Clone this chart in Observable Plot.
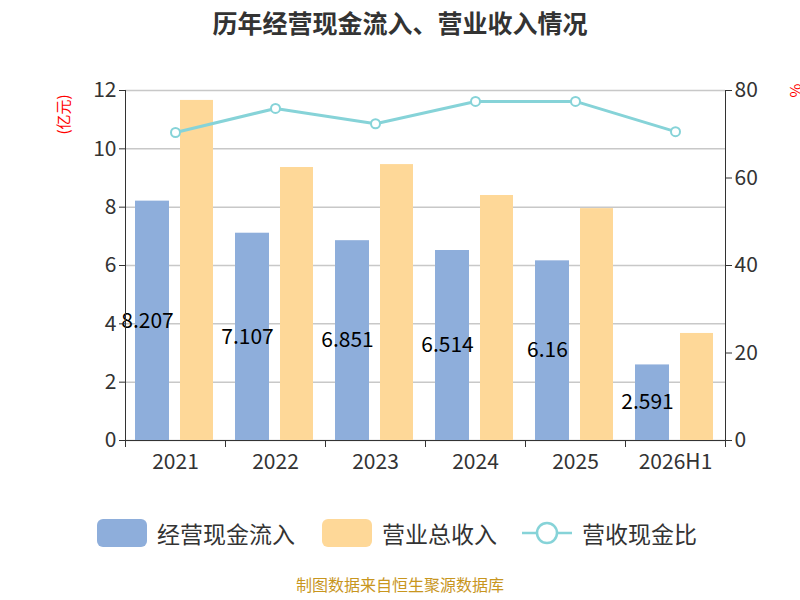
<!DOCTYPE html>
<html><head><meta charset="utf-8">
<script src="https://cdn.jsdelivr.net/npm/d3@7"></script>
<script src="https://cdn.jsdelivr.net/npm/@observablehq/plot@0.6"></script>
<style>
body{margin:0;width:800px;height:600px;overflow:hidden;background:#fff;font-family:"Noto Sans CJK SC",sans-serif;position:relative}
#title{position:absolute;top:4px;width:800px;text-align:center;font-size:25px;font-weight:bold;color:#333}
#chart{position:absolute;top:60px;left:0}
.leg{position:absolute;top:516px;font-size:23px;color:#333;display:flex;align-items:center}
.sw{width:50px;height:28px;border-radius:6px;margin-right:10px}
#src{position:absolute;top:572px;width:800px;text-align:center;font-size:16px;color:#c8961e}
.yl{position:absolute;color:red;font-size:15px;transform:rotate(-90deg);transform-origin:center}
</style></head><body>
<div id="title">历年经营现金流入、营业收入情况</div>
<div id="chart"></div>
<div class="yl" style="left:42px;top:104px">(亿元)</div>
<div class="yl" style="left:788px;top:80px">%</div>
<div class="leg" style="left:97px"><div class="sw" style="background:#8eaedb"></div>经营现金流入</div>
<div class="leg" style="left:322px"><div class="sw" style="background:#fed898"></div>营业总收入</div>
<div class="leg" style="left:522px"><svg width="50" height="28"><line x1="0" y1="14" x2="50" y2="14" stroke="#86d3d8" stroke-width="2.5"/><circle cx="25" cy="14" r="10" fill="#fff" stroke="#86d3d8" stroke-width="2.5"/></svg><span style="margin-left:10px">营收现金比</span></div>
<div id="src">制图数据来自恒生聚源数据库</div>
<script>
const years=["2021","2022","2023","2024","2025","2026H1"];
const cashIn=[8.207,7.107,6.851,6.514,6.16,2.591];
const revenue=[11.66,9.36,9.46,8.40,7.95,3.67];
const ratio=[70.4,75.9,72.4,77.5,77.5,70.6];
const leftTicks=[0,2,4,6,8,10,12];
const rightTicks=[0,20,40,60,80];
const k=12/80;
const data=years.map((y,i)=>({year:y,cash:cashIn[i],rev:revenue[i],ratio:ratio[i]}));
const font='"Noto Sans CJK SC",sans-serif';
const chart=Plot.plot({
  width:800,height:420,marginTop:30,marginBottom:40,marginLeft:125,marginRight:75,
  style:{fontFamily:font,fontSize:"21px",color:"#333",background:"transparent"},
  x:{domain:years,padding:0,label:null},
  y:{domain:[0,12],label:null},
  marks:[
    Plot.gridY(leftTicks,{stroke:"#c8c8c8",strokeOpacity:1,strokeWidth:1.5}),
    Plot.barY(data,{x:"year",y:"cash",fill:"#8eaedb",insetLeft:10,insetRight:56}),
    Plot.barY(data,{x:"year",y:"rev",fill:"#fed898",insetLeft:55,insetRight:12}),
    Plot.text(data,{x:"year",y:d=>d.cash/2,text:d=>String(d.cash),dx:-28,fontSize:21,fill:"#000"}),
    Plot.line(data,{x:"year",y:d=>d.ratio*k,stroke:"#86d3d8",strokeWidth:3}),
    Plot.dot(data,{x:"year",y:d=>d.ratio*k,r:4.5,fill:"#fff",stroke:"#86d3d8",strokeWidth:2}),
    Plot.axisX({tickSize:0,tickPadding:14,fontSize:21}),
    Plot.ruleX(data,{x:"year",y1:0,y2:-0.24,dx:-50,stroke:"#333"}),
    Plot.ruleX([years[years.length-1]],{y1:0,y2:-0.24,dx:50,stroke:"#333"}),
    Plot.axisY({anchor:"left",ticks:leftTicks,tickSize:6,fontSize:21}),
    Plot.axisY({anchor:"right",ticks:rightTicks.map(v=>v*k),tickFormat:d=>Math.round(d/k),tickSize:6,fontSize:21}),
    Plot.ruleY([0],{stroke:"#333"}),
    Plot.ruleX([years[0]],{y1:0,y2:12,dx:-50,stroke:"#333"}),
    Plot.ruleX([years[years.length-1]],{y1:0,y2:12,dx:50,stroke:"#333"})
  ]
});
document.getElementById("chart").appendChild(chart);
</script></body></html>
